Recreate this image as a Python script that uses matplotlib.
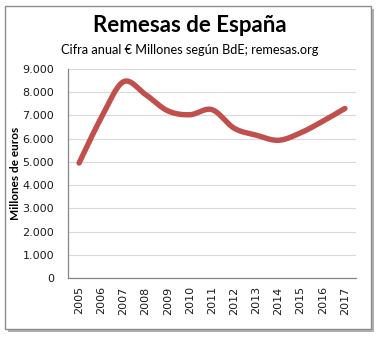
import matplotlib
matplotlib.use('Agg')
import matplotlib.pyplot as plt
import numpy as np
from matplotlib.patches import Rectangle

years = [2005, 2006, 2007, 2008, 2009, 2010, 2011, 2012, 2013, 2014, 2015, 2016, 2017]
remesas = [4950, 6900, 8450, 7900, 7200, 7030, 7250, 6450, 6150, 5930, 6250, 6750, 7300]
yticks = [0, 1000, 2000, 3000, 4000, 5000, 6000, 7000, 8000, 9000]
ytick_labels = ['0', '1.000', '2.000', '3.000', '4.000', '5.000', '6.000', '7.000', '8.000', '9.000']


def smooth(x, y, n=30):
    # Excel-style smoothed line (Catmull-Rom through the points)
    x, y = np.asarray(x, float), np.asarray(y, float)
    px = np.concatenate([[x[0]], x, [x[-1]]])
    py = np.concatenate([[y[0]], y, [y[-1]]])
    xs, ys = [], []
    t = np.linspace(0, 1, n)
    for i in range(1, len(px) - 2):
        for p, out in ((px, xs), (py, ys)):
            p0, p1, p2, p3 = p[i - 1], p[i], p[i + 1], p[i + 2]
            out.extend(0.5 * ((2 * p1) + (-p0 + p2) * t
                              + (2 * p0 - 5 * p1 + 4 * p2 - p3) * t**2
                              + (-p0 + 3 * p1 - 3 * p2 + p3) * t**3))
    return np.array(xs), np.array(ys)


fig = plt.figure(figsize=(3.8, 3.37), dpi=100)
fig.patch.set_facecolor('white')

# frame with shadow
fig.patches.append(Rectangle((8 / 380, 5 / 337), 366 / 380, 323 / 337, transform=fig.transFigure,
                             facecolor='#b0b0b0', edgecolor='none', zorder=0))
fig.patches.append(Rectangle((5 / 380, 8 / 337), 366 / 380, 323 / 337, transform=fig.transFigure,
                             facecolor='white', edgecolor='#8c8c8c', lw=1, zorder=1))

ax = fig.add_axes([68 / 380, (337 - 278) / 337, 288 / 380, 209 / 337])
ax.set_zorder(2)

xs, ys = smooth(range(len(years)), remesas)
ax.plot(xs, ys, color='#c0504d', lw=3.9, solid_capstyle='round')

ax.set_xlim(-0.5, len(years) - 0.5)
ax.set_ylim(0, 9000)
ax.set_yticks(yticks)
ax.set_yticklabels(ytick_labels)
ax.set_xticks(range(len(years)))
ax.set_xticklabels([str(y) for y in years], rotation=90)
ax.tick_params(length=0, labelsize=8, colors='#1a1a1a', pad=6)
ax.tick_params(axis='y', pad=10)
ax.grid(axis='y', color='#d9d9d9', lw=0.8)
ax.set_axisbelow(True)
for s in ['top', 'right']:
    ax.spines[s].set_visible(False)
for s in ['left', 'bottom']:
    ax.spines[s].set_color('#868686')
    ax.spines[s].set_linewidth(0.9)

ax.set_ylabel('Millones de euros', fontsize=8.5, fontweight='bold', fontfamily='Lato')
ax.yaxis.set_label_coords(-47 / 288, 0.5)

fig.text(0.5, 1 - 25 / 337, 'Remesas de España', ha='center', va='center',
         fontsize=16, fontweight='bold', fontfamily='Lato')
fig.text(0.5, 1 - 50 / 337, 'Cifra anual € Millones según BdE; remesas.org', ha='center', va='center',
         fontsize=9.2, fontfamily='Lato')

fig.savefig('out.png', dpi=100)
